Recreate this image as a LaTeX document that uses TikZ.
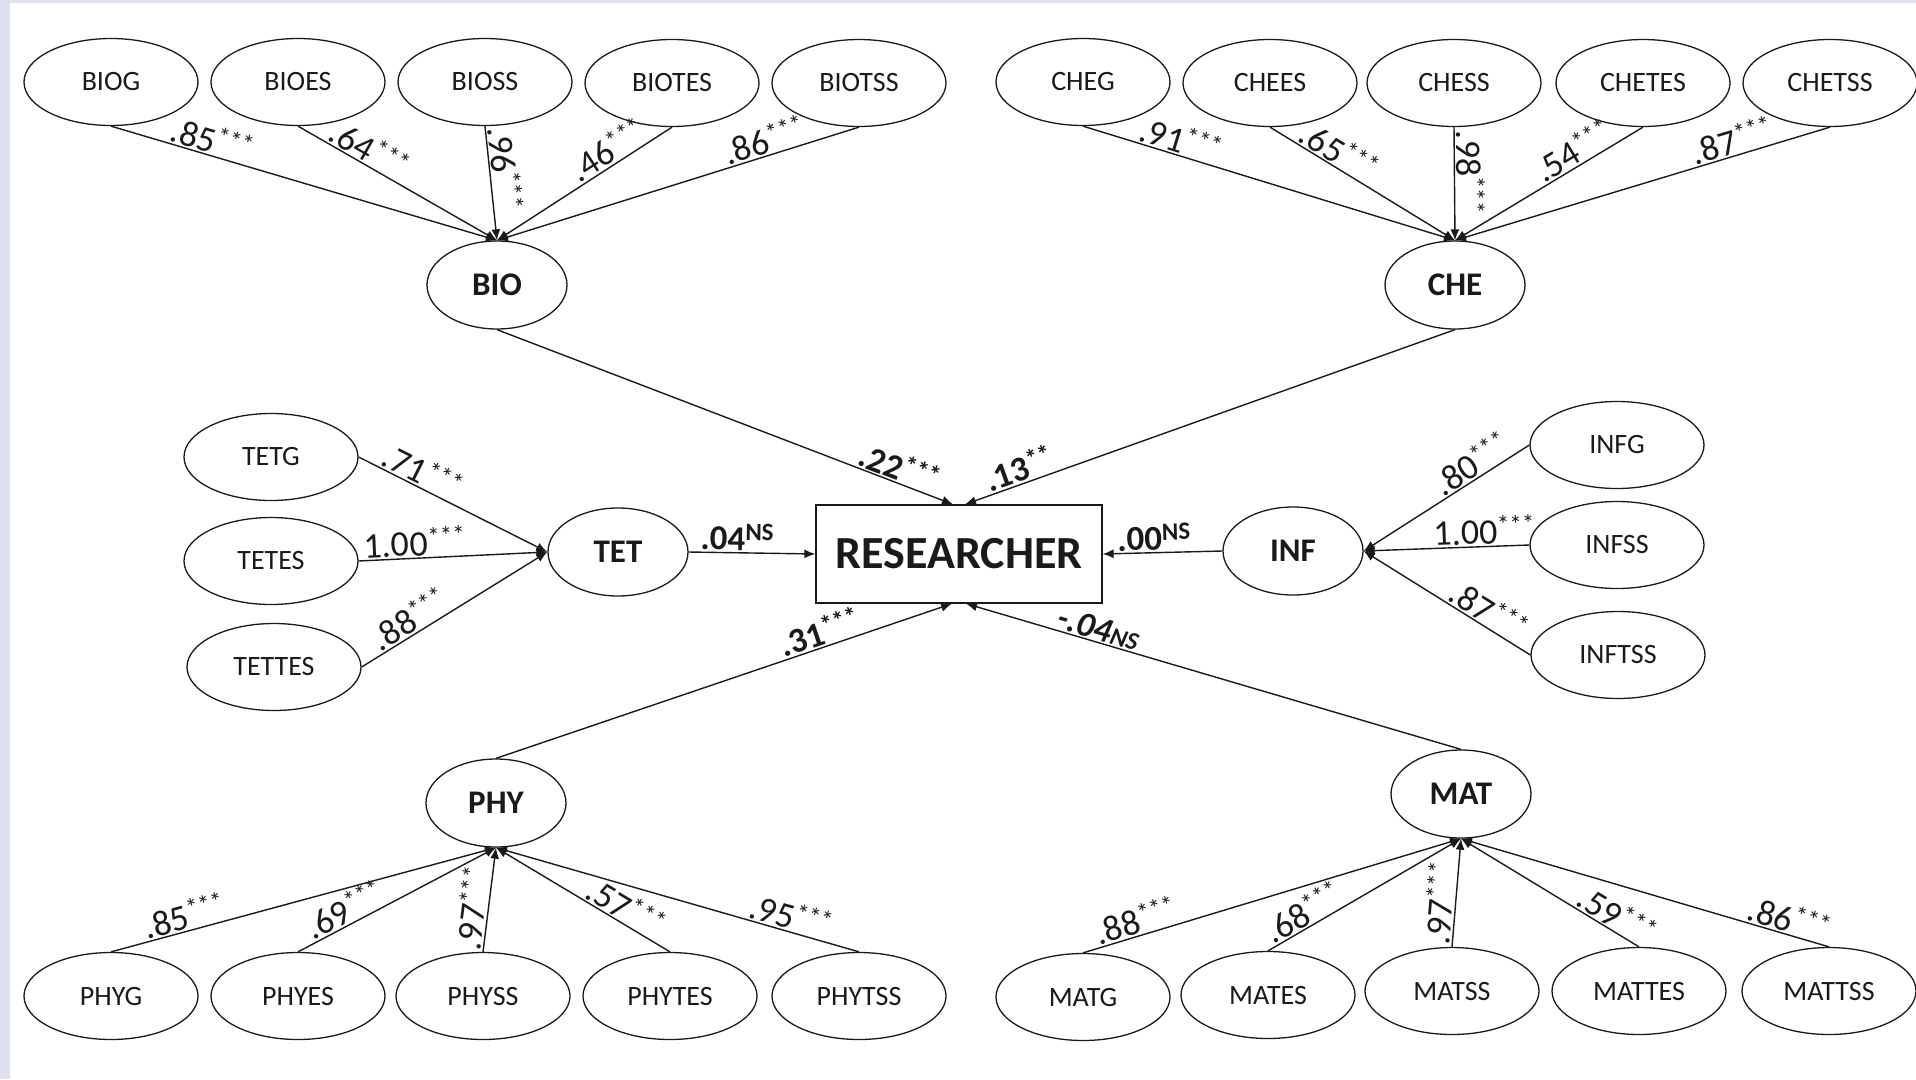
\documentclass[tikz,border=0pt]{standalone}
\usepackage{fontspec}
\setmainfont{Carlito}
\usetikzlibrary{shapes.geometric,arrows.meta}
\definecolor{ink}{HTML}{1A1A1A}
\definecolor{frame}{HTML}{DFE1EF}
% raised significance marks
\newcommand\st[1]{\raisebox{0.28em}{\fontsize{25}{25}\selectfont#1}}
\tikzset{
  obs/.style={ellipse, draw=ink, line width=1.3pt, minimum width=174pt, minimum height=87pt,
    inner sep=0pt, text=ink, font=\fontsize{28}{30}\selectfont},
  lat/.style={ellipse, draw=ink, line width=1.3pt, minimum width=140pt, minimum height=88pt,
    inner sep=0pt, text=ink, font=\bfseries\fontsize{33}{36}\selectfont},
  outcome/.style={rectangle, draw=ink, line width=1.3pt, minimum width=286pt, minimum height=98pt,
    inner sep=0pt, text=ink, font=\bfseries\fontsize{46}{50}\selectfont},
  arr/.style={draw=ink, line width=1.4pt, -{Latex[length=11pt,width=9pt]}},
  ld/.style={font=\fontsize{36}{38}\selectfont, text=ink, sloped, above, inner sep=1.5pt},
  pth/.style={font=\bfseries\fontsize{35}{37}\selectfont, text=ink, sloped, above, inner sep=1.5pt}
}
\begin{document}
\begin{tikzpicture}[x=1pt,y=-1pt]
% page and its lavender edge
\useasboundingbox (0,0) rectangle (1916,1079);
\fill[frame] (0,0) rectangle (1916,1079);
\fill[white] (10,3) rectangle (1916,1079);

% outcome
\node[outcome] (RES) at (959,554) {RESEARCHER};
\coordinate (RESnl) at ([xshift=-6pt]RES.north);
\coordinate (RESnr) at ([xshift=6pt]RES.north);
\coordinate (RESsl) at ([xshift=-7pt]RES.south);
\coordinate (RESsr) at ([xshift=7pt]RES.south);

% latent factors
\node[lat] (BIO) at (497,285) {BIO};
\node[lat] (CHE) at (1455,285) {CHE};
\node[lat] (TET) at (618,552) {TET};
\node[lat] (INF) at (1293,551) {INF};
\node[lat] (PHY) at (496,803) {PHY};
\node[lat] (MAT) at (1461,794) {MAT};

% indicators: biology
\node[obs] (BIOG)   at (111,82) {BIOG};
\node[obs] (BIOES)  at (298,82) {BIOES};
\node[obs] (BIOSS)  at (485,82) {BIOSS};
\node[obs] (BIOTES) at (672,83) {BIOTES};
\node[obs] (BIOTSS) at (859,83) {BIOTSS};
% indicators: chemistry
\node[obs] (CHEG)   at (1083,82) {CHEG};
\node[obs] (CHEES)  at (1270,83) {CHEES};
\node[obs] (CHESS)  at (1454,83) {CHESS};
\node[obs] (CHETES) at (1643,83) {CHETES};
\node[obs] (CHETSS) at (1830,83) {CHETSS};
% indicators: technology
\node[obs] (TETG)   at (271,457) {TETG};
\node[obs] (TETES)  at (271,561) {TETES};
\node[obs] (TETTES) at (274,667) {TETTES};
% indicators: informatics
\node[obs] (INFG)   at (1617,445) {INFG};
\node[obs] (INFSS)  at (1617,545) {INFSS};
\node[obs] (INFTSS) at (1618,655) {INFTSS};
% indicators: physics
\node[obs] (PHYG)   at (111,996) {PHYG};
\node[obs] (PHYES)  at (298,996) {PHYES};
\node[obs] (PHYSS)  at (483,996) {PHYSS};
\node[obs] (PHYTES) at (670,996) {PHYTES};
\node[obs] (PHYTSS) at (859,996) {PHYTSS};
% indicators: mathematics
\node[obs] (MATG)   at (1083,997) {MATG};
\node[obs] (MATES)  at (1268,995) {MATES};
\node[obs] (MATSS)  at (1452,991) {MATSS};
\node[obs] (MATTES) at (1639,991) {MATTES};
\node[obs] (MATTSS) at (1829,991) {MATTSS};

% loadings: biology
\draw[arr] (BIOG.south)   -- node[ld,pos=0.25]{.85\st{***}} (BIO.north);
\draw[arr] (BIOES.south)  -- node[ld,pos=0.32]{.64\st{***}} (BIO.north);
\draw[arr] (BIOSS.south)  -- node[ld,pos=0.38]{.96\st{***}} (BIO.north);
\draw[arr] (BIOTES.south) -- node[ld,pos=0.32]{.46\st{***}} (BIO.north);
\draw[arr] (BIOTSS.south) -- node[ld,pos=0.25]{.86\st{***}} (BIO.north);
% loadings: chemistry
\draw[arr] (CHEG.south)   -- node[ld,pos=0.25]{.91\st{***}} (CHE.north);
\draw[arr] (CHEES.south)  -- node[ld,pos=0.33]{.65\st{***}} (CHE.north);
\draw[arr] (CHESS.south)  -- node[ld,pos=0.4]{.98\st{***}} (CHE.north);
\draw[arr] (CHETES.south) -- node[ld,pos=0.33]{.54\st{***}} (CHE.north);
\draw[arr] (CHETSS.south) -- node[ld,pos=0.25]{.87\st{***}} (CHE.north);
% loadings: technology
\draw[arr] (TETG.east)   -- node[ld,pos=0.3]{.71\st{***}} (TET.west);
\draw[arr] (TETES.east)  -- node[ld,pos=0.3]{1.00\st{***}} (TET.west);
\draw[arr] (TETTES.east) -- node[ld,pos=0.3]{.88\st{***}} (TET.west);
% loadings: informatics
\draw[arr] (INFG.west)   -- node[ld,pos=0.3]{.80\st{***}} (INF.east);
\draw[arr] (INFSS.west)  -- node[ld,pos=0.27]{1.00\st{***}} (INF.east);
\draw[arr] (INFTSS.west) -- node[ld,pos=0.3]{.87\st{***}} (INF.east);
% loadings: physics
\draw[arr] (PHYG.north)   -- node[ld,pos=0.2]{.85\st{***}} (PHY.south);
\draw[arr] (PHYES.north)  -- node[ld,pos=0.27]{.69\st{***}} (PHY.south);
\draw[arr] (PHYSS.north)  -- node[ld,pos=0.4]{.97\st{***}} (PHY.south);
\draw[arr] (PHYTES.north) -- node[ld,pos=0.3]{.57\st{***}} (PHY.south);
\draw[arr] (PHYTSS.north) -- node[ld,pos=0.2]{.95\st{***}} (PHY.south);
% loadings: mathematics
\draw[arr] (MATG.north)   -- node[ld,pos=0.15]{.88\st{***}} (MAT.south);
\draw[arr] (MATES.north)  -- node[ld,pos=0.22]{.68\st{***}} (MAT.south);
\draw[arr] (MATSS.north)  -- node[ld,pos=0.39]{.97\st{***}} (MAT.south);
\draw[arr] (MATTES.north) -- node[ld,pos=0.17]{.59\st{***}} (MAT.south);
\draw[arr] (MATTSS.north) -- node[ld,pos=0.12]{.86\st{***}} (MAT.south);

% structural paths
\draw[arr] (BIO.south) -- node[pth,pos=0.87]{.22\st{***}} (RESnl);
\draw[arr] (CHE.south) -- node[pth,pos=0.88]{.13\st{**}} (RESnr);
\draw[arr] (TET.east)  -- node[pth,pos=0.38]{.04\st{NS}} (RES.west);
\draw[arr] (INF.west)  -- node[pth,pos=0.57]{.00\st{NS}} (RES.east);
\draw[arr] (PHY.north) -- node[pth,pos=0.72]{.31\st{***}} (RESsl);
\draw[arr] (MAT.north) -- node[pth,pos=0.74]{\itshape -.04{\fontsize{25}{27}\selectfont NS}} (RESsr);
\end{tikzpicture}
\end{document}
